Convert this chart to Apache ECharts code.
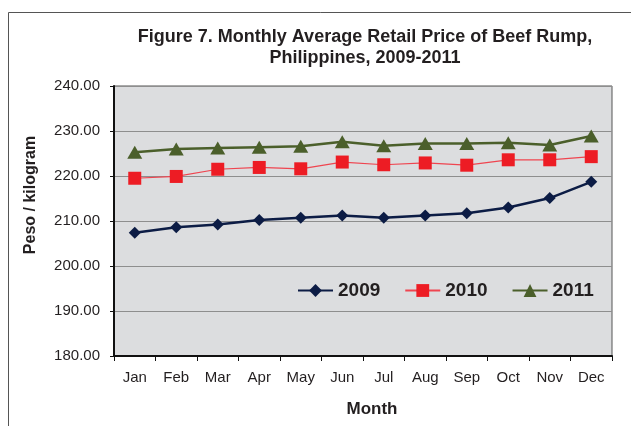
<!DOCTYPE html>
<html>
<head>
<meta charset="utf-8">
<script src="https://cdn.jsdelivr.net/npm/echarts@6/dist/echarts.min.js"></script>
<style>html,body{margin:0;padding:0;background:#fff;}#c{width:631px;height:426px;}</style>
</head>
<body>
<div id="c"></div>
<script>
var months = ['Jan','Feb','Mar','Apr','May','Jun','Jul','Aug','Sep','Oct','Nov','Dec'];
var y2009 = [207.4, 208.6, 209.2, 210.2, 210.7, 211.2, 210.7, 211.2, 211.7, 213.0, 215.1, 218.7];
var y2010 = [219.5, 219.9, 221.5, 221.9, 221.6, 223.1, 222.5, 222.9, 222.4, 223.6, 223.6, 224.3];
var y2011 = [225.3, 226.0, 226.2, 226.4, 226.6, 227.6, 226.7, 227.2, 227.2, 227.4, 226.9, 228.9];
var yMin = 180, yMax = 240, yStep = 10;
var titleText = 'Figure 7. Monthly Average Retail Price of Beef Rump,\nPhilippines, 2009-2011';
var yName = 'Peso / kilogram';
var xName = 'Month';

var F = 'Arial, "Liberation Sans", Helvetica, sans-serif';
var chart = echarts.init(document.getElementById('c'), null, {renderer: 'canvas'});
chart.setOption({
  backgroundColor: '#ffffff',
  animation: false,
  title: {
    text: titleText,
    left: 365, top: 27, textAlign: 'center', padding: 0,
    textStyle: {fontFamily: F, fontSize: 18, fontWeight: 'bold', color: '#231f20', lineHeight: 21}
  },
  graphic: [
    {type: 'rect', shape: {x: 8.5, y: 12.5, width: 700, height: 500}, style: {fill: 'none', stroke: '#555', lineWidth: 1}, silent: true, z: -1},
    {type: 'text', x: 31, y: 195, rotation: Math.PI / 2,
     style: {text: yName, font: 'bold 16px ' + F, fill: '#231f20', align: 'center', verticalAlign: 'middle'}}
  ],
  legend: {
    left: 297, top: 281, padding: 0,
    itemWidth: 35, itemHeight: 16, itemGap: 24,
    textStyle: {fontFamily: F, fontSize: 19, fontWeight: 'bold', color: '#231f20'},
    data: ['2009', '2010', '2011']
  },
  grid: {
    left: 114, right: 19, top: 86, bottom: 70,
    outerBoundsMode: 'none', containLabel: false,
    show: true, backgroundColor: '#dcdddf', borderColor: '#555', borderWidth: 1
  },
  xAxis: {
    type: 'category', data: months, boundaryGap: true,
    name: xName, nameLocation: 'middle', nameGap: 45,
    nameTextStyle: {fontFamily: F, fontSize: 17, fontWeight: 'bold', color: '#231f20', padding: [0, 0, 0, 18]},
    axisLine: {lineStyle: {color: '#111', width: 2}},
    axisTick: {show: true, length: 5, inside: false, alignWithLabel: false, lineStyle: {color: '#111', width: 1}},
    axisLabel: {fontFamily: F, fontSize: 15, color: '#231f20', margin: 14, interval: 0},
    splitLine: {show: false}
  },
  yAxis: {
    type: 'value', min: yMin, max: yMax, interval: yStep,
    axisLine: {show: true, lineStyle: {color: '#111', width: 2}},
    axisTick: {show: true, length: 4, lineStyle: {color: '#111', width: 1}},
    axisLabel: {fontFamily: F, fontSize: 15, color: '#231f20', margin: 14,
      formatter: function (v) { return v.toFixed(2); }},
    splitLine: {show: true, lineStyle: {color: '#8e8e8e', width: 1}}
  },
  series: [
    {name: '2009', type: 'line', data: y2009, symbol: 'diamond', symbolSize: 12,
     lineStyle: {color: '#0c1c45', width: 2.5}, itemStyle: {color: '#0c1c45'}, z: 3},
    {name: '2010', type: 'line', data: y2010, symbol: 'rect', symbolSize: 13,
     lineStyle: {color: '#ef4550', width: 1.2}, itemStyle: {color: '#ed1c24'}, z: 4},
    {name: '2011', type: 'line', data: y2011, symbol: 'triangle', symbolSize: [15, 13],
     lineStyle: {color: '#4b5f2b', width: 2.5}, itemStyle: {color: '#4b5f2b'}, z: 5}
  ]
});
</script>
</body>
</html>
